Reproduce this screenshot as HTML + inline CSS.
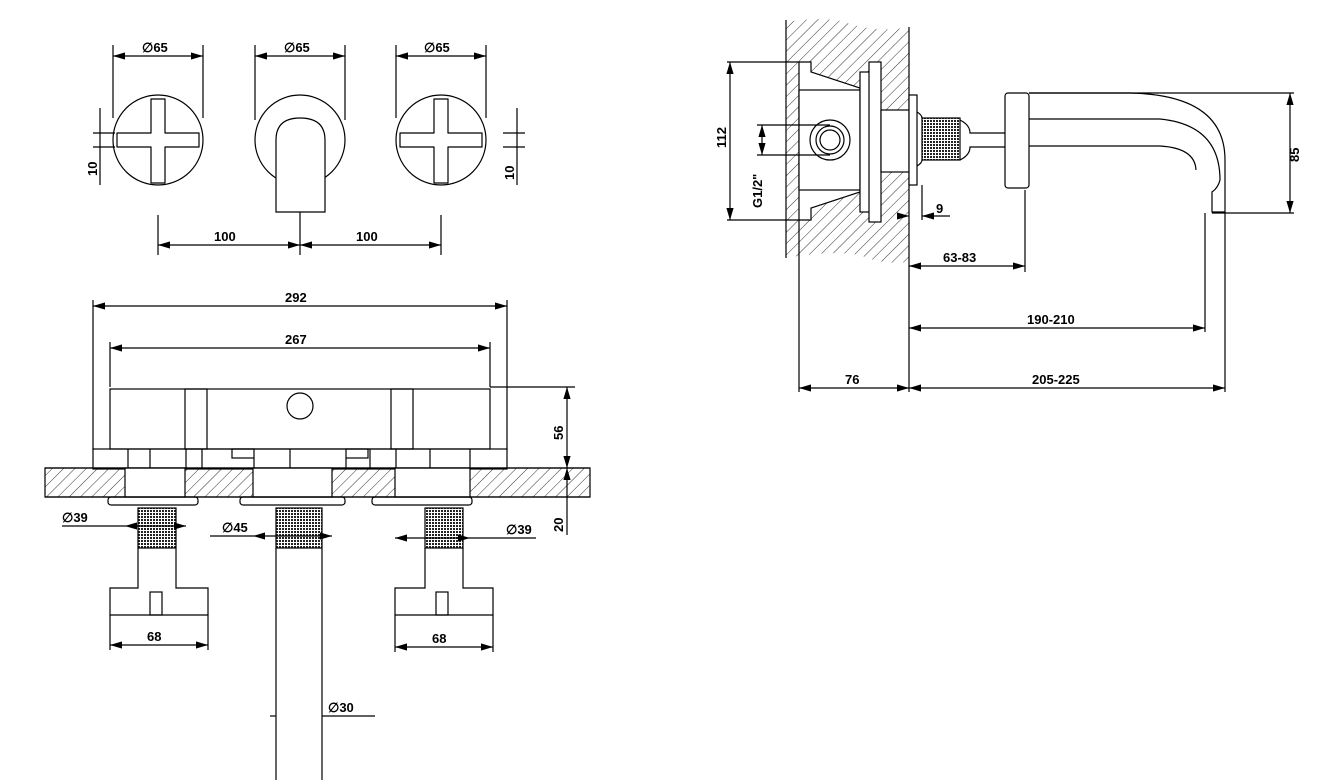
<!DOCTYPE html>
<html><head><style>body{margin:0;background:#fff}svg{display:block}text{font-family:"Liberation Sans",sans-serif;font-weight:bold;font-size:13px;fill:#000}</style></head><body>
<svg width="1319" height="780" viewBox="0 0 1319 780" xmlns="http://www.w3.org/2000/svg">
<defs>
<pattern id="h" width="8" height="8" patternUnits="userSpaceOnUse" patternTransform="rotate(45)"><line x1="0" y1="0" x2="0" y2="8" stroke="#000" stroke-width="0.8"/></pattern>
<pattern id="k" width="3" height="3" patternUnits="userSpaceOnUse"><rect width="3" height="3" fill="#fff"/><rect width="2" height="2" fill="#222"/></pattern>
<marker id="a" markerWidth="10" markerHeight="6" refX="10" refY="3" orient="auto-start-reverse"><path d="M0,0L10,3L0,6z" fill="#000"/></marker>
</defs>
<g stroke="#000" stroke-width="1.2" fill="none">
<g id="x1"><circle cx="158" cy="140" r="45"/>
<path d="M151,99 H165 V133 H199 V147 H165 V183 H151 V147 H117 V133 H151 Z" stroke-linejoin="round"/>
<line x1="113" y1="45" x2="113" y2="118"/><line x1="203" y1="45" x2="203" y2="118"/>
<line x1="113" y1="56" x2="203" y2="56" marker-start="url(#a)" marker-end="url(#a)"/></g>
<use href="#x1" x="283"/>
<circle cx="300" cy="140" r="45"/>
<line x1="255" y1="45" x2="255" y2="120"/><line x1="345" y1="45" x2="345" y2="120"/>
<line x1="255" y1="56" x2="345" y2="56" marker-start="url(#a)" marker-end="url(#a)"/>
<path d="M276,212 L276,140 Q276,118 300,118 Q325,118 325,140 L325,212 Z" fill="#fff"/>
<line x1="158" y1="215" x2="158" y2="255"/><line x1="300" y1="212" x2="300" y2="255"/><line x1="441" y1="215" x2="441" y2="255"/>
<line x1="158" y1="245" x2="300" y2="245" marker-start="url(#a)" marker-end="url(#a)"/>
<line x1="300" y1="245" x2="441" y2="245" marker-start="url(#a)" marker-end="url(#a)"/>
<line x1="100" y1="108" x2="100" y2="185"/><line x1="93" y1="133" x2="115" y2="133"/><line x1="93" y1="147" x2="115" y2="147"/>
<line x1="517" y1="108" x2="517" y2="185"/><line x1="503" y1="133" x2="525" y2="133"/><line x1="503" y1="147" x2="525" y2="147"/>
<line x1="93" y1="300" x2="93" y2="450"/><line x1="507" y1="300" x2="507" y2="450"/>
<line x1="93" y1="306" x2="507" y2="306" marker-start="url(#a)" marker-end="url(#a)"/>
<line x1="110" y1="342" x2="110" y2="387"/><line x1="490" y1="342" x2="490" y2="387"/>
<line x1="110" y1="348" x2="490" y2="348" marker-start="url(#a)" marker-end="url(#a)"/>
<rect x="110" y="389" width="380" height="60"/>
<rect x="185" y="389" width="22" height="60"/><rect x="391" y="389" width="22" height="60"/>
<circle cx="300" cy="406" r="13"/>
<rect x="93" y="449" width="414" height="20"/>
<path d="M128,449V469 M186,449V469 M202,449V469 M254,458V469 M346,458V469 M370,449V469 M396,449V469 M470,449V469 M150,449V469 M290,449V469 M430,449V469"/>
<rect x="232" y="449" width="22" height="9"/><rect x="346" y="449" width="22" height="9"/>
<rect x="45" y="468" width="545" height="29" fill="url(#h)"/>
<rect x="125" y="468" width="60" height="29" fill="#fff"/><rect x="253" y="468" width="79" height="29" fill="#fff"/><rect x="395" y="468" width="75" height="29" fill="#fff"/>
<line x1="45" y1="468" x2="590" y2="468"/><line x1="45" y1="497" x2="590" y2="497"/>
<rect x="108" y="497" width="90" height="8" rx="3"/><rect x="240" y="497" width="105" height="8" rx="3"/><rect x="372" y="497" width="100" height="8" rx="3"/>
<rect x="138" y="508" width="38" height="40" fill="url(#k)"/><rect x="276" y="508" width="46" height="40" fill="url(#k)"/><rect x="425" y="508" width="38" height="40" fill="url(#k)"/>
<path d="M138,548V588H110V615H208V588H176V548"/><path d="M425,548V588H395V615H493V588H463V548"/>
<rect x="150" y="592" width="12" height="23"/><rect x="436" y="592" width="12" height="23"/>
<line x1="110" y1="615" x2="110" y2="650"/><line x1="208" y1="615" x2="208" y2="650"/><line x1="395" y1="615" x2="395" y2="652"/><line x1="493" y1="615" x2="493" y2="652"/>
<line x1="110" y1="645" x2="208" y2="645" marker-start="url(#a)" marker-end="url(#a)"/>
<line x1="395" y1="647" x2="493" y2="647" marker-start="url(#a)" marker-end="url(#a)"/>
<path d="M276,548V780 M322,548V780"/>
<line x1="270" y1="716" x2="276" y2="716" /><line x1="322" y1="716" x2="375" y2="716"/>
<line x1="62" y1="526" x2="125" y2="526"/><line x1="125" y1="526" x2="186" y2="526" marker-start="url(#a)" marker-end="url(#a)"/>
<line x1="210" y1="536" x2="253" y2="536"/><line x1="253" y1="536" x2="332" y2="536" marker-start="url(#a)" marker-end="url(#a)"/>
<line x1="395" y1="538" x2="470" y2="538" marker-start="url(#a)" marker-end="url(#a)"/><line x1="470" y1="538" x2="536" y2="538"/>
<line x1="490" y1="387" x2="575" y2="387"/>
<line x1="567" y1="387" x2="567" y2="468" marker-start="url(#a)" marker-end="url(#a)"/>
<line x1="567" y1="468" x2="567" y2="535" marker-start="url(#a)"/>
<path d="M786,22 Q830,15 850,24 Q880,33 909,27 L909,262 Q880,265 860,255 Q830,250 786,258 Z" fill="url(#h)" stroke="none"/>
<line x1="786" y1="20" x2="786" y2="258"/><line x1="909" y1="27" x2="909" y2="262"/>
<path d="M799,62 H811 V72 L860,88 V192 L811,208 V220 H799 Z" fill="#fff"/>
<rect x="799" y="90" width="61" height="100" fill="#fff"/>
<rect x="860" y="72" width="12" height="140" fill="#fff"/><rect x="869" y="62" width="12" height="160" fill="#fff"/>
<rect x="881" y="110" width="28" height="62" fill="#fff"/>
<circle cx="830" cy="140" r="20"/><circle cx="830" cy="140" r="14"/><circle cx="830" cy="140" r="10"/>
<rect x="909" y="95" width="8" height="90" fill="#fff"/>
<rect x="922" y="118" width="38" height="42" fill="url(#k)"/>
<path d="M917,112 Q922,115 922,118 M917,166 Q922,163 922,160"/>
<path d="M960,120 Q970,125 970,133 H1005 M960,160 Q970,155 970,147 H1005"/>
<rect x="1005" y="93" width="24" height="95" rx="3" fill="#fff"/>
<path d="M1029,93 H1130 Q1225,95 1225,160 V212 H1212 V192 Q1218,188 1220,180 Q1220,125 1160,119 H1029"/>
<path d="M1029,146 H1160 Q1195,148 1196,170"/>
<line x1="1029" y1="93" x2="1294" y2="93"/><line x1="1212" y1="213" x2="1294" y2="213"/>
<line x1="1290" y1="93" x2="1290" y2="213" marker-start="url(#a)" marker-end="url(#a)"/>
<line x1="727" y1="62" x2="799" y2="62"/><line x1="727" y1="220" x2="799" y2="220"/>
<line x1="730" y1="62" x2="730" y2="220" marker-start="url(#a)" marker-end="url(#a)"/>
<line x1="757" y1="125" x2="830" y2="125"/><line x1="757" y1="155" x2="830" y2="155"/>
<line x1="762" y1="125" x2="762" y2="155" marker-start="url(#a)" marker-end="url(#a)"/>
<line x1="922" y1="185" x2="922" y2="220"/><line x1="899" y1="216" x2="909" y2="216" marker-end="url(#a)"/><line x1="922" y1="216" x2="950" y2="216" marker-start="url(#a)"/>
<line x1="799" y1="220" x2="799" y2="392"/><line x1="909" y1="262" x2="909" y2="392"/>
<line x1="1025" y1="190" x2="1025" y2="272"/><line x1="1205" y1="213" x2="1205" y2="332"/><line x1="1225" y1="212" x2="1225" y2="392"/>
<line x1="909" y1="266" x2="1025" y2="266" marker-start="url(#a)" marker-end="url(#a)"/>
<line x1="909" y1="328" x2="1205" y2="328" marker-start="url(#a)" marker-end="url(#a)"/>
<line x1="799" y1="388" x2="909" y2="388" marker-start="url(#a)" marker-end="url(#a)"/>
<line x1="909" y1="388" x2="1225" y2="388" marker-start="url(#a)" marker-end="url(#a)"/>
</g>
<text x="142" y="52">∅65</text><text x="284" y="52">∅65</text><text x="424" y="52">∅65</text>
<text x="214" y="241">100</text><text x="356" y="241">100</text>
<text transform="translate(97,176) rotate(-90)">10</text><text transform="translate(514,180) rotate(-90)">10</text>
<text x="285" y="302">292</text><text x="285" y="344">267</text>
<text transform="translate(563,440) rotate(-90)">56</text><text transform="translate(563,532) rotate(-90)">20</text>
<text x="62" y="522">∅39</text><text x="222" y="532">∅45</text><text x="506" y="534">∅39</text>
<text x="147" y="641">68</text><text x="432" y="643">68</text><text x="328" y="712">∅30</text>
<text transform="translate(726,148) rotate(-90)">112</text><text transform="translate(762,208) rotate(-90)">G1/2"</text>
<text transform="translate(1299,162) rotate(-90)">85</text>
<text x="936" y="213">9</text><text x="943" y="262">63-83</text><text x="1027" y="324">190-210</text>
<text x="845" y="384">76</text><text x="1032" y="384">205-225</text>
</svg>
</body></html>
